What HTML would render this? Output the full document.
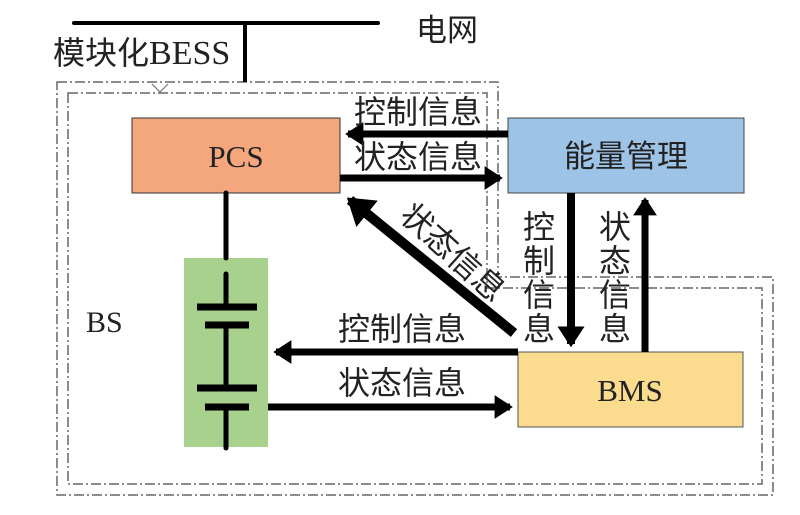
<!DOCTYPE html>
<html><head><meta charset="utf-8"><style>
html,body{margin:0;padding:0;background:#fff;width:800px;height:515px;overflow:hidden}
text{font-family:"Liberation Serif","Noto Serif CJK SC","Noto Sans CJK SC",serif;fill:#222}
.cj{font-family:"Liberation Sans","Noto Sans CJK SC",sans-serif}
</style></head><body>
<svg width="800" height="515" viewBox="0 0 800 515" xmlns="http://www.w3.org/2000/svg">
<defs>
<marker id="ah" markerWidth="4" markerHeight="4" refX="2.2" refY="2" orient="auto" markerUnits="strokeWidth"><path d="M0,0.3 L2.6,2 L0,3.7 Z" fill="#000"/></marker>
</defs>
<g fill="none" stroke="#666" stroke-width="1.5" stroke-dasharray="10,3,2,3">
<path d="M57,82 H498 V277 H773 V495 H57 Z"/>
<path d="M68,93 H487 V288 H762 V484 H68 Z"/>
</g>
<path d="M152,84 L160,92 L168,84" fill="none" stroke="#777" stroke-width="1.2"/>
<line x1="74" y1="23" x2="378" y2="23" stroke="#000" stroke-width="4" stroke-linecap="round"/>
<line x1="245" y1="23" x2="245" y2="82" stroke="#000" stroke-width="4"/>
<text x="416" y="41" class="cj" font-size="31">电网</text>
<text x="53" y="64" font-size="32" class="cj">模块化<tspan font-family="Liberation Serif" font-size="34">BESS</tspan></text>
<rect x="132" y="118" width="208" height="75" fill="#f4a77c" stroke="#333" stroke-width="1"/>
<text x="236" y="167" font-size="31" text-anchor="middle">PCS</text>
<rect x="508" y="118" width="236" height="75" fill="#9dc3e6" stroke="#444" stroke-width="1"/>
<text x="626" y="167" font-size="31" text-anchor="middle" class="cj">能量管理</text>
<rect x="518" y="352" width="225" height="75" fill="#fbdc8e" stroke="#555" stroke-width="1"/>
<text x="630" y="401" font-size="31" text-anchor="middle">BMS</text>
<rect x="184" y="258" width="84" height="189" fill="#a9d18e"/>
<g stroke="#000" stroke-width="5" stroke-linecap="round">
<line x1="226" y1="193" x2="226" y2="258"/>
<line x1="226" y1="274" x2="226" y2="307"/>
<line x1="226" y1="325" x2="226" y2="388"/>
<line x1="226" y1="407" x2="226" y2="448"/>
</g>
<g stroke="#000" stroke-width="7">
<line x1="197" y1="307" x2="257" y2="307"/>
<line x1="205" y1="325" x2="249" y2="325"/>
<line x1="197" y1="388" x2="257" y2="388"/>
<line x1="205" y1="407" x2="249" y2="407"/>
</g>
<g stroke="#000" stroke-width="7" fill="none">
<line x1="508" y1="134" x2="348" y2="134" marker-end="url(#ah)"/>
<line x1="340" y1="178" x2="500" y2="178" marker-end="url(#ah)"/>
<line x1="514" y1="333" x2="350" y2="200" stroke-width="10" marker-end="url(#ah)"/>
<line x1="571" y1="193" x2="571" y2="344" stroke-width="8" marker-end="url(#ah)"/>
<line x1="645" y1="352" x2="645" y2="200" marker-end="url(#ah)"/>
<line x1="518" y1="352" x2="276" y2="352" marker-end="url(#ah)"/>
<line x1="268" y1="407" x2="510" y2="407" marker-end="url(#ah)"/>
</g>
<g class="cj" font-size="32">
<text x="354" y="123" class="cj">控制信息</text>
<text x="354" y="168" class="cj">状态信息</text>
<text x="338" y="340" class="cj">控制信息</text>
<text x="338" y="394" class="cj">状态信息</text>
<text x="398" y="218" class="cj" transform="rotate(42 398 218)">状态信息</text>
</g>
<g class="cj" font-size="32" text-anchor="middle">
<text x="539" y="238" class="cj">控</text><text x="539" y="272" class="cj">制</text><text x="539" y="306" class="cj">信</text><text x="539" y="340" class="cj">息</text>
<text x="615" y="238" class="cj">状</text><text x="615" y="272" class="cj">态</text><text x="615" y="306" class="cj">信</text><text x="615" y="340" class="cj">息</text>
</g>
<text x="86" y="332" font-size="30">BS</text>
</svg>
</body></html>
